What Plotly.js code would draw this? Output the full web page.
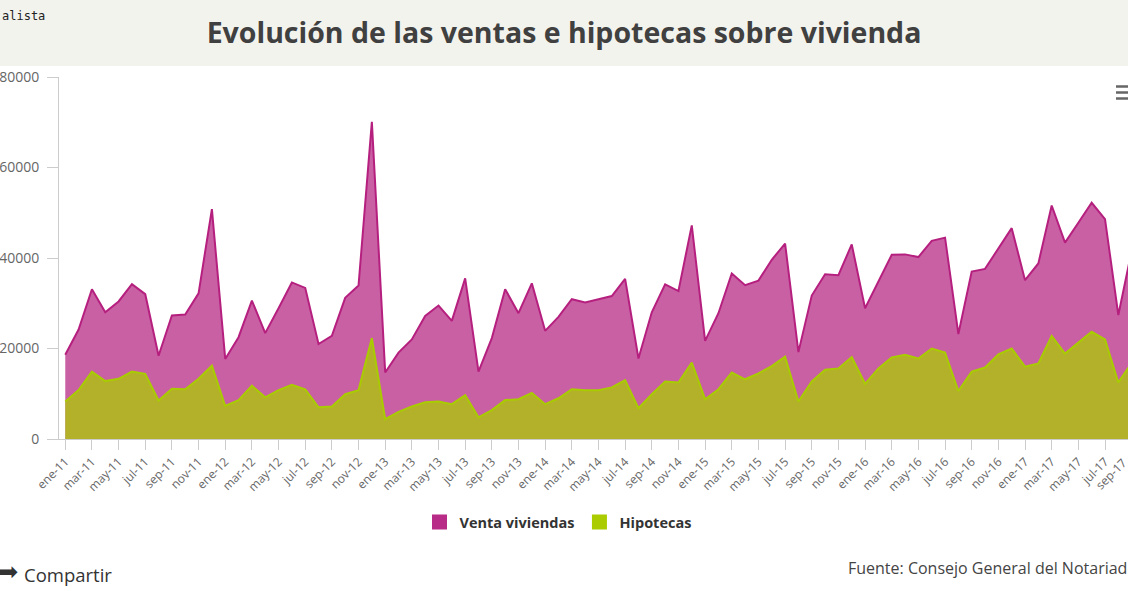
<!DOCTYPE html>
<html>
<head>
<meta charset="utf-8">
<script src="https://cdn.plot.ly/plotly-3.0.1.min.js"></script>
<style>
  html, body { margin: 0; padding: 0; background: #ffffff; overflow: hidden; }
  #chart { width: 1128px; height: 591px; }
</style>
</head>
<body>
<div id="chart"></div>
<script>
const categories = [
  'ene-11','feb-11','mar-11','abr-11','may-11','jun-11','jul-11','ago-11','sep-11','oct-11','nov-11','dic-11',
  'ene-12','feb-12','mar-12','abr-12','may-12','jun-12','jul-12','ago-12','sep-12','oct-12','nov-12','dic-12',
  'ene-13','feb-13','mar-13','abr-13','may-13','jun-13','jul-13','ago-13','sep-13','oct-13','nov-13','dic-13',
  'ene-14','feb-14','mar-14','abr-14','may-14','jun-14','jul-14','ago-14','sep-14','oct-14','nov-14','dic-14',
  'ene-15','feb-15','mar-15','abr-15','may-15','jun-15','jul-15','ago-15','sep-15','oct-15','nov-15','dic-15',
  'ene-16','feb-16','mar-16','abr-16','may-16','jun-16','jul-16','ago-16','sep-16','oct-16','nov-16','dic-16',
  'ene-17','feb-17','mar-17','abr-17','may-17','jun-17','jul-17','ago-17','sep-17'
];

const ventaViviendas = [
  18600, 24200, 33100, 28000, 30400, 34200, 32000, 18400, 27300, 27500, 32200, 50800,
  17700, 22500, 30600, 23400, 28900, 34600, 33400, 21000, 22800, 31200, 33900, 70100,
  14700, 19100, 22000, 27200, 29500, 26100, 35500, 14900, 22300, 33100, 27800, 34400,
  23900, 27000, 30900, 30200, 30900, 31600, 35400, 17800, 28000, 34200, 32700, 47200,
  21700, 27800, 36600, 34000, 35000, 39600, 43200, 19200, 31700, 36400, 36200, 43000,
  28900, 34800, 40700, 40800, 40200, 43800, 44500, 23200, 37000, 37600, 42100, 46600,
  35100, 38800, 51600, 43400, 47800, 52200, 48600, 27400, 41600
];

const hipotecas = [
  8300, 10800, 14900, 12800, 13300, 14900, 14400, 8500, 11100, 11000, 13300, 16200,
  7300, 8600, 11800, 9200, 10800, 12000, 11000, 7000, 7200, 9900, 10800, 22300,
  4400, 6000, 7200, 8100, 8300, 7700, 9700, 4800, 6400, 8600, 8800, 10200,
  7700, 9000, 11000, 10800, 10800, 11400, 13000, 6800, 9900, 12700, 12500, 16900,
  8800, 11000, 14700, 13200, 14500, 16100, 18200, 8300, 12700, 15300, 15600, 18100,
  12200, 15600, 18000, 18600, 17800, 20000, 19100, 10600, 14900, 15800, 18700, 20000,
  16000, 16700, 22800, 18900, 21300, 23700, 22000, 12500, 16800
];

const xTickLabels = categories.filter((c, i) => i % 2 === 0);
const lastTickLabel = xTickLabels[xTickLabels.length - 1];
const yTicks = [0, 20000, 40000, 60000, 80000];
const seriesNames = ['Venta viviendas', 'Hipotecas'];

const traces = [
  {
    x: categories, y: ventaViviendas, type: 'scatter', mode: 'lines',
    fill: 'tozeroy', fillcolor: 'rgba(184,43,134,0.75)',
    line: { color: '#b5207f', width: 2 },
    name: seriesNames[0], legendgroup: 'v', showlegend: false
  },
  {
    x: categories, y: hipotecas, type: 'scatter', mode: 'lines',
    fill: 'tozeroy', fillcolor: 'rgba(170,204,0,0.75)',
    line: { color: '#a8cc00', width: 2 },
    name: seriesNames[1], legendgroup: 'h', showlegend: false
  },
  {
    x: [null], y: [null], type: 'scatter', mode: 'markers',
    marker: { symbol: 'square', size: 15, color: '#b82b86' },
    name: seriesNames[0], legendgroup: 'v', showlegend: true
  },
  {
    x: [null], y: [null], type: 'scatter', mode: 'markers',
    marker: { symbol: 'square', size: 15, color: '#aacc00' },
    name: seriesNames[1], legendgroup: 'h', showlegend: true
  }
];

// pixel helpers for paper coords (plot area: x 59..1128, y 77..439)
const PL = 59, PR = 1128, PT = 77, PB = 439;
const STEP = 13.33, X0 = -0.47;
const px = v => (v - PL) / (PR - PL);
const py = v => (PB - v) / (PB - PT);
// paper x of a category index (for the tick that falls just past the cropped edge)
const catPaper = i => (i - X0) * STEP / (PR - PL);

const layout = {
  width: 1128, height: 591,
  margin: { l: PL, r: 0, t: PT, b: 591 - PB, pad: 0 },
  paper_bgcolor: '#ffffff', plot_bgcolor: 'rgba(0,0,0,0)',
  font: { family: 'Open Sans, sans-serif', color: '#666' },
  title: {
    text: 'Evolución de las ventas e hipotecas sobre vivienda',
    font: { family: 'Open Sans, sans-serif', size: 28.5, color: '#404040', weight: 700 },
    x: 0.5, xref: 'container', xanchor: 'center',
    y: 1 - 33 / 591, yref: 'container', yanchor: 'middle'
  },
  xaxis: {
    type: 'category',
    range: [X0, X0 + (PR - PL) / STEP],
    tickmode: 'array', tickvals: xTickLabels, ticktext: xTickLabels,
    tickangle: -45,
    ticks: 'outside', ticklen: 10, tickcolor: '#cccccc', tickwidth: 1,
    showline: true, linecolor: '#cccccc', linewidth: 1,
    showgrid: false, zeroline: false,
    tickfont: { size: 12, color: '#666' }
  },
  yaxis: {
    range: [0, 80000],
    tickmode: 'array', tickvals: yTicks, ticktext: yTicks.map(String),
    ticks: 'outside', ticklen: 11, tickcolor: '#cccccc', tickwidth: 1,
    showline: true, linecolor: '#cccccc', linewidth: 1,
    showgrid: false, zeroline: false,
    ticklabelstandoff: 5,
    tickfont: { size: 14, color: '#666' }
  },
  showlegend: true,
  legend: {
    orientation: 'h', x: px(558), xanchor: 'center', y: py(522), yanchor: 'middle',
    font: { family: 'Open Sans, sans-serif', size: 14.5, color: '#333', weight: 700 },
    bgcolor: 'rgba(0,0,0,0)', itemwidth: 30
  },
  shapes: [
    { type: 'rect', xref: 'paper', yref: 'paper', x0: px(0), x1: px(1128), y0: py(0), y1: py(66),
      fillcolor: '#f3f3ee', line: { width: 0 }, layer: 'below' },
    { type: 'line', xref: 'paper', yref: 'paper', x0: px(1116), x1: px(1128), y0: py(86.5), y1: py(86.5),
      line: { color: '#666', width: 2.5 } },
    { type: 'line', xref: 'paper', yref: 'paper', x0: px(1116), x1: px(1128), y0: py(92.5), y1: py(92.5),
      line: { color: '#666', width: 2.5 } },
    { type: 'line', xref: 'paper', yref: 'paper', x0: px(1116), x1: px(1128), y0: py(98.5), y1: py(98.5),
      line: { color: '#666', width: 2.5 } }
  ],
  annotations: [
    { text: 'alista', xref: 'paper', yref: 'paper', x: px(0), y: py(16), xanchor: 'left', yanchor: 'middle',
      showarrow: false, font: { family: 'DejaVu Sans Mono, monospace', size: 12, color: '#222' } },
    { text: '➡', xref: 'paper', yref: 'paper', x: px(-4), y: py(572), xanchor: 'left', yanchor: 'middle',
      showarrow: false, font: { family: 'DejaVu Sans, sans-serif', size: 24, color: '#333' } },
    { text: 'Compartir', xref: 'paper', yref: 'paper', x: px(22), y: py(574), xanchor: 'left', yanchor: 'middle',
      showarrow: false, font: { family: 'Open Sans, sans-serif', size: 18.5, color: '#333' } },
    { text: 'Fuente: Consejo General del Notariado', xref: 'paper', yref: 'paper', x: px(846), y: py(568),
      xanchor: 'left', yanchor: 'middle', showarrow: false,
      font: { family: 'Open Sans, sans-serif', size: 16, color: '#444' } },
    { text: lastTickLabel, xref: 'paper', yref: 'paper', x: catPaper(categories.indexOf(lastTickLabel)) + 2 / (PR - PL),
      y: py(451), xanchor: 'right', yanchor: 'top', textangle: -45, showarrow: false,
      font: { family: 'Open Sans, sans-serif', size: 12, color: '#666' } }
  ]
};

Plotly.newPlot('chart', traces, layout, { displayModeBar: false, staticPlot: true });
</script>
</body>
</html>
